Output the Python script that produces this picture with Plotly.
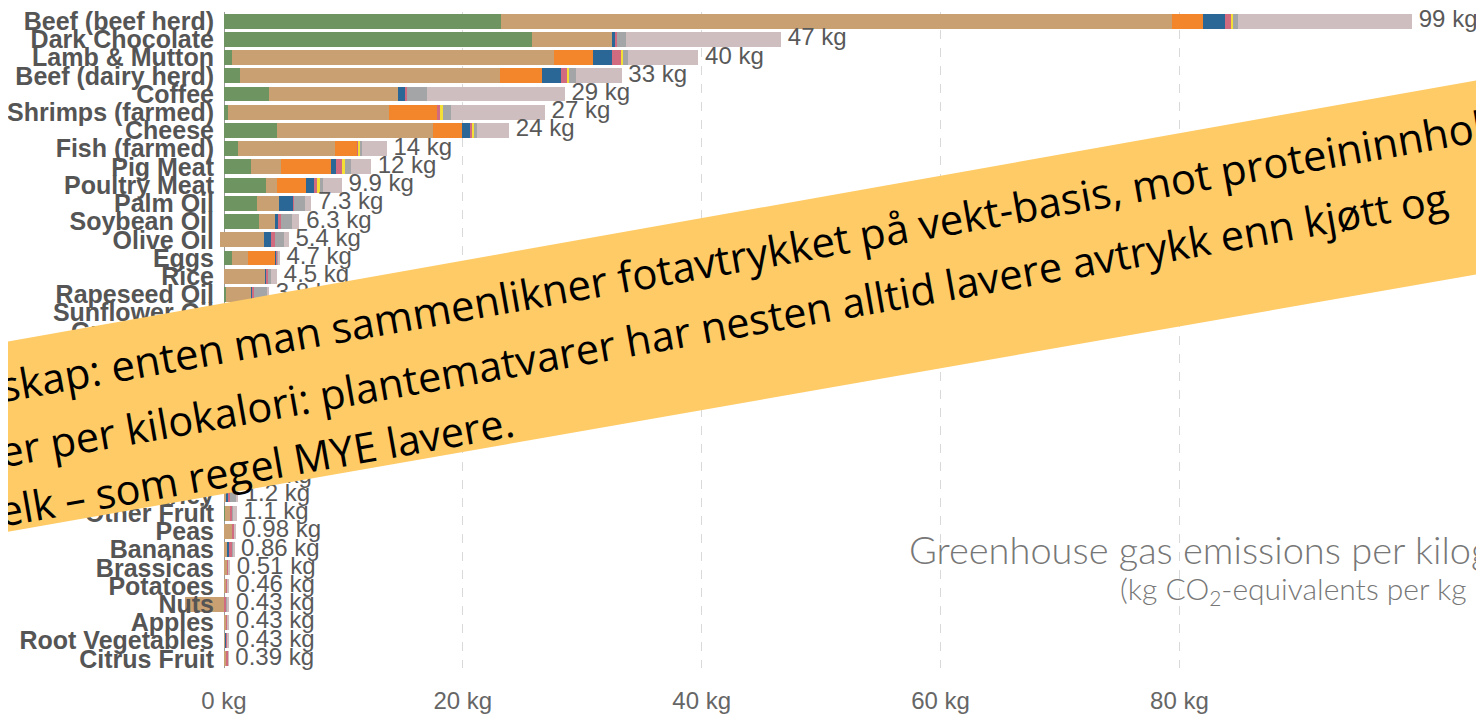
import plotly.graph_objects as go

# ---------------- data ----------------
foods = ["Beef (beef herd)", "Dark Chocolate", "Lamb & Mutton", "Beef (dairy herd)", "Coffee",
         "Shrimps (farmed)", "Cheese", "Fish (farmed)", "Pig Meat", "Poultry Meat", "Palm Oil",
         "Soybean Oil", "Olive Oil", "Eggs", "Rice", "Rapeseed Oil", "Sunflower Oil", "Groundnuts",
         "Cane Sugar", "Tofu", "Milk", "Oatmeal", "Tomatoes", "Wine", "Wheat & Rye", "Cassava",
         "Barley", "Other Fruit", "Peas", "Bananas", "Brassicas", "Potatoes", "Nuts", "Apples",
         "Root Vegetables", "Citrus Fruit"]

land_use = [23.2, 25.8, 0.7, 1.3, 3.8, 0.3, 4.4, 1.2, 2.3, 3.5, 2.8, 2.9, -0.3, 0.7, 0.0, 0.2, 0.1, 0.4,
            1.2, 1.0, 0.5, 0.0, 0.4, 0.0, 0.1, 0.6, 0.0, 0.1, 0.0, 0.0, 0.0, 0.0, -3.27, 0.0, 0.0, 0.0]
farm = [56.2, 6.7, 26.9, 21.8, 10.8, 13.5, 13.1, 8.1, 2.5, 0.9, 1.8, 1.4, 3.65, 1.3, 3.5, 2.1, 2.2, 1.4,
        0.5, 0.5, 1.5, 1.4, 0.7, 0.6, 0.8, 0.2, 0.2, 0.4, 0.75, 0.3, 0.3, 0.2, 3.3, 0.2, 0.15, 0.25]
animal_feed = [2.6, 0.0, 3.3, 3.5, 0.0, 4.0, 2.4, 1.8, 4.2, 2.5, 0.0, 0.0, 0.0, 2.3, 0.0, 0.0, 0.0, 0.0,
               0.0, 0.0, 0.2, 0.0, 0.0, 0.0, 0.0, 0.0, 0.0, 0.0, 0.0, 0.0, 0.0, 0.0, 0.0, 0.0, 0.0, 0.0]
processing = [1.8, 0.3, 1.6, 1.6, 0.6, 0.0, 0.7, 0.0, 0.4, 0.6, 1.2, 0.2, 0.55, 0.1, 0.1, 0.1, 0.1, 0.4,
              0.0, 0.8, 0.15, 0.0, 0.0, 0.1, 0.2, 0.0, 0.2, 0.0, 0.0, 0.1, 0.0, 0.0, 0.05, 0.0, 0.03, 0.0]
transport = [0.5, 0.1, 0.7, 0.6, 0.1, 0.3, 0.2, 0.2, 0.5, 0.3, 0.1, 0.3, 0.35, 0.05, 0.1, 0.1, 0.05, 0.1,
             0.8, 0.2, 0.1, 0.1, 0.2, 0.1, 0.1, 0.1, 0.1, 0.2, 0.1, 0.3, 0.1, 0.1, 0.1, 0.1, 0.1, 0.1]
retail = [0.2, 0.0, 0.2, 0.1, 0.0, 0.2, 0.1, 0.15, 0.25, 0.2, 0.0, 0.0, 0.0, 0.0, 0.0, 0.0, 0.0, 0.0,
          0.0, 0.3, 0.3, 0.0, 0.0, 0.0, 0.06, 0.0, 0.0, 0.0, 0.0, 0.02, 0.0, 0.0, 0.0, 0.0, 0.0, 0.0]
packaging = [0.4, 0.8, 0.4, 0.6, 1.7, 0.7, 0.3, 0.1, 0.5, 0.3, 0.9, 0.9, 0.8, 0.15, 0.2, 1.1, 0.8, 0.1,
             0.1, 0.2, 0.1, 0.1, 0.15, 0.6, 0.09, 0.0, 0.5, 0.05, 0.04, 0.07, 0.0, 0.0, 0.1, 0.03, 0.05, 0.0]
losses = [14.58, 12.95, 5.92, 3.8, 11.53, 7.87, 2.68, 2.08, 1.66, 1.57, 0.52, 0.62, 0.37, 0.07, 0.55, 0.17,
          0.35, 0.83, 0.6, 0.16, 0.3, 0.88, 0.64, 0.39, 0.22, 0.42, 0.18, 0.3, 0.09, 0.07, 0.11, 0.16, 0.15,
          0.1, 0.1, 0.04]

value_labels = ["99 kg", "47 kg", "40 kg", "33 kg", "29 kg", "27 kg", "24 kg", "14 kg", "12 kg", "9.9 kg",
                "7.3 kg", "6.3 kg", "5.4 kg", "4.7 kg", "4.5 kg", "3.8 kg", "3.6 kg", "3.2 kg", "3.2 kg",
                "3.2 kg", "3.2 kg", "2.5 kg", "2.1 kg", "1.8 kg", "1.6 kg", "1.3 kg", "1.2 kg", "1.1 kg",
                "0.98 kg", "0.86 kg", "0.51 kg", "0.46 kg", "0.43 kg", "0.43 kg", "0.43 kg", "0.39 kg"]

x_tick_values = [0, 20, 40, 60, 80]
x_tick_labels = ["0 kg", "20 kg", "40 kg", "60 kg", "80 kg"]

series_names = ["Land use change", "Farm", "Animal feed", "Processing", "Transport", "Retail",
                "Packaging", "Losses"]
series_values = [land_use, farm, animal_feed, processing, transport, retail, packaging, losses]
series_colors = ["#6E9561", "#C9A071", "#F3862B", "#2A6796", "#D16B80", "#F4DF36", "#A4A5A7", "#CFBEC0"]

title_line1 = "Greenhouse gas emissions per kilogram of food product"
title_line2 = "(kg CO<sub>2</sub>-equivalents per kg product)"

banner_lines = [
    "egenskap: enten man sammenlikner fotavtrykket på vekt-basis, mot proteininnhold,",
    "eller per kilokalori: plantematvarer har nesten alltid lavere avtrykk enn kjøtt og",
    "melk – som regel MYE lavere.",
]

# ---------------- layout geometry ----------------
# The page puts the figure 8 px in from the top-left corner of the window,
# so the figure is drawn 8 px smaller and positions below are window pixels.
OFF = 8
W, H = 1484 - OFF, 719 - OFF
PL, PR, PT, PB = 181, 1484, 12, 668   # plot area in window pixels


def px(x):
    return (x - PL) / (PR - PL)


def py(y):
    return (PB - y) / (PB - PT)


ypos = list(range(len(foods)))
totals = [sum(s[i] for s in series_values) for i in range(len(foods))]

fig = go.Figure()
for name, vals, col in zip(series_names, series_values, series_colors):
    fig.add_trace(go.Bar(
        y=ypos, x=vals, orientation="h", name=name,
        marker=dict(color=col, line=dict(width=0)),
        hoverinfo="skip", showlegend=False,
    ))

fig.add_trace(go.Scatter(
    y=ypos, x=totals, mode="text",
    text=["\u00a0" + t for t in value_labels],
    textposition="middle right",
    textfont=dict(family="Liberation Sans, Arial", size=24, color="#595959"),
    cliponaxis=False, showlegend=False, hoverinfo="skip",
))

# banner (rotated rectangle)
corners = [(-30, 348.3), (1514, 73.7), (1514, 267.8), (-30, 538.3)]
path = "M " + " L ".join(f"{px(x):.5f},{py(y):.5f}" for x, y in corners) + " Z"
fig.add_shape(type="path", path=path, xref="paper", yref="paper",
              fillcolor="#FECB66", line=dict(width=0), layer="above")

banner_centers = [(712.0, 261.0), (701.2, 328.0), (237.7, 469.0)]
banner_sizes = [42, 41.5, 41.5]
for txt, (cx, cy), fs in zip(banner_lines, banner_centers, banner_sizes):
    fig.add_annotation(text=txt, x=px(cx), y=py(cy), xref="paper", yref="paper",
                       xanchor="center", yanchor="middle", showarrow=False, textangle=-10,
                       font=dict(family="Open Sans", size=fs, color="#000000"))

fig.add_annotation(text=title_line1, x=px(907), y=py(549), xref="paper", yref="paper",
                   xanchor="left", yanchor="middle", showarrow=False,
                   font=dict(family="Lato", size=38, color="#777777", weight=300))
fig.add_annotation(text=title_line2, x=px(1118), y=py(590), xref="paper", yref="paper",
                   xanchor="left", yanchor="middle", showarrow=False,
                   font=dict(family="Lato", size=30, color="#777777", weight=300))

fig.update_layout(
    width=W, height=H,
    margin=dict(l=PL - OFF, r=0, t=PT - OFF, b=H - (PB - OFF)),
    barmode="stack", bargap=0.18,
    paper_bgcolor="white", plot_bgcolor="white",
    xaxis=dict(range=[-3.6, 105.5], tickvals=x_tick_values, ticktext=x_tick_labels,
               showgrid=True, gridcolor="#d9d9d9", griddash="dash", gridwidth=1,
               zeroline=True, zerolinecolor="#9a9a9a", zerolinewidth=1,
               ticks="outside", ticklen=11, tickcolor="rgba(0,0,0,0)",
               tickfont=dict(family="Liberation Sans, Arial", size=24, color="#666666"),
               showline=False, fixedrange=True),
    yaxis=dict(range=[len(foods) - 0.5, -0.5], tickvals=ypos, ticktext=foods,
               anchor="free", position=px(224), ticklabeloverflow="allow",
               ticks="outside", ticklen=5, tickcolor="rgba(0,0,0,0)",
               tickfont=dict(family="Liberation Sans, Arial", size=25, color="#555555", weight="bold"),
               showgrid=False, zeroline=False, showline=False, fixedrange=True),
)

fig.write_html("out.html")
